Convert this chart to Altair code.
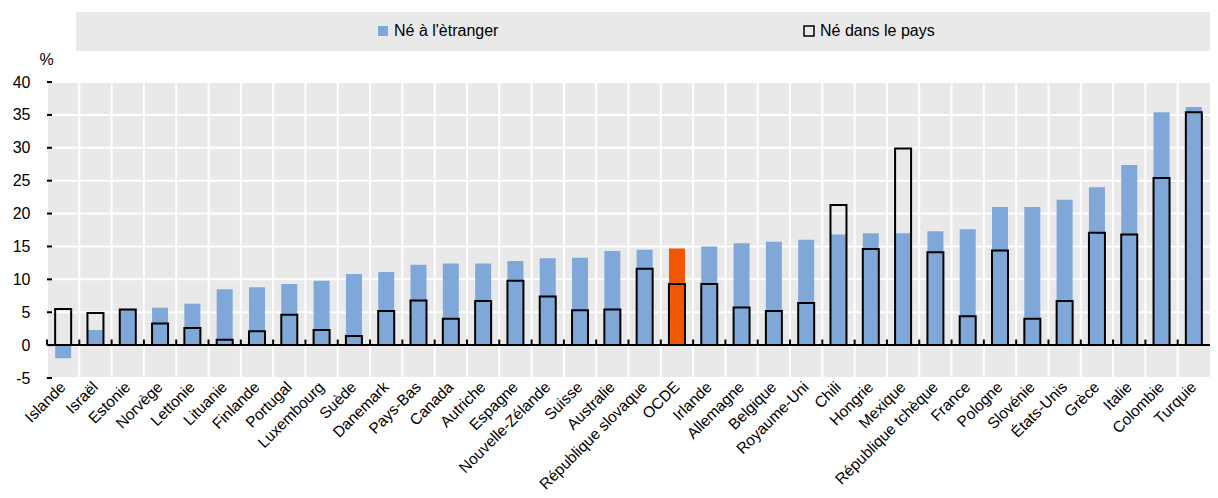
import altair as alt
import pandas as pd

countries = ["Islande", "Israël", "Estonie", "Norvège", "Lettonie", "Lituanie", "Finlande",
             "Portugal", "Luxembourg", "Suède", "Danemark", "Pays-Bas", "Canada", "Autriche",
             "Espagne", "Nouvelle-Zélande", "Suisse", "Australie", "République slovaque", "OCDE",
             "Irlande", "Allemagne", "Belgique", "Royaume-Uni", "Chili", "Hongrie", "Mexique",
             "République tchèque", "France", "Pologne", "Slovénie", "États-Unis", "Grèce",
             "Italie", "Colombie", "Turquie"]
foreign = [-2.0, 2.3, 5.5, 5.7, 6.3, 8.5, 8.8, 9.3, 9.8, 10.8, 11.1, 12.2, 12.4, 12.4, 12.8,
           13.2, 13.3, 14.3, 14.5, 14.7, 15.0, 15.5, 15.7, 16.0, 16.8, 17.0, 17.0, 17.3, 17.6,
           21.0, 21.0, 22.1, 24.0, 27.4, 35.4, 36.2]
native = [5.5, 4.9, 5.4, 3.3, 2.6, 0.8, 2.1, 4.6, 2.3, 1.4, 5.2, 6.8, 4.0, 6.7, 9.8, 7.4, 5.3,
          5.4, 11.6, 9.3, 9.3, 5.7, 5.2, 6.4, 21.3, 14.6, 29.9, 14.1, 4.4, 14.4, 4.0, 6.7, 17.1,
          16.8, 25.4, 35.4]
series_names = ["Né à l'ètranger", "Né dans le pays"]
y_ticks = [-5, 0, 5, 10, 15, 20, 25, 30, 35, 40]
highlight = "OCDE"

BLUE = "#7FA8D9"
ORANGE = "#F25600"
GREY = "#E9E9E9"
FONT = "Liberation Sans"
W, H = 1163, 296
HALF_STEP = W / len(countries) / 2
TICK_LEN = 0.85  # in data units on the y scale

rows = []
for c, f in zip(countries, foreign):
    rows.append({"country": c, "series": series_names[0], "key": "foreign", "value": f})
for c, n in zip(countries, native):
    rows.append({"country": c, "series": series_names[1], "key": "native", "value": n})
df = pd.DataFrame(rows)
cdf = pd.DataFrame({"country": countries})
tdf = pd.DataFrame({"t": y_ticks})
one = pd.DataFrame({"a": [0]})

xscale = alt.Scale(paddingInner=0, paddingOuter=0)
yscale = alt.Scale(domain=[-5, 40], nice=False)
xplain = alt.X("country:N", sort=countries, scale=xscale, axis=None)

background = alt.Chart(one).mark_rect(color=GREY).encode(
    x=alt.value(0), x2=alt.value(W), y=alt.value(0), y2=alt.value(H))

legend_band = alt.Chart(one).mark_rect(color=GREY).encode(
    x=alt.value(29), x2=alt.value(W), y=alt.value(-70), y2=alt.value(-31))

hgrid = alt.Chart(tdf).mark_rule(color="white", strokeWidth=2).encode(
    y=alt.Y("t:Q", scale=yscale, axis=None))

vgrid = alt.Chart(cdf).mark_rule(color="white", strokeWidth=2, xOffset=-HALF_STEP).encode(
    x=xplain, y=alt.value(0), y2=alt.value(H))

leg = alt.Legend(title=None, orient="none", legendX=328, legendY=-59, direction="horizontal",
                 symbolType="square", symbolSize=100, symbolStrokeWidth=1.5,
                 labelFontSize=16, labelFont=FONT, labelColor="black", labelOffset=3,
                 columnPadding=302, padding=0)

bars = alt.Chart(df).mark_bar(size=16, strokeWidth=2).encode(
    x=alt.X("country:N", sort=countries, scale=xscale,
            axis=alt.Axis(title=None, domain=False, ticks=False, grid=False,
                          labelAngle=-45, labelAlign="right", labelBaseline="middle",
                          labelPadding=6, labelFontSize=15.5, labelFont=FONT,
                          labelColor="black", labelOverlap=False)),
    y=alt.Y("value:Q", scale=yscale, stack=None,
            axis=alt.Axis(title="%", titleAngle=0, titleX=-1, titleY=-15, titleAlign="center",
                          titleFontSize=16, titleFontWeight="normal", titleFont=FONT,
                          titleColor="black",
                          values=y_ticks, domain=True, domainColor="black", domainWidth=2,
                          ticks=False, grid=False,
                          labelFontSize=16, labelFont=FONT, labelColor="black",
                          labelPadding=17, labelOverlap=False, labelFlush=False,
                          labelExpr="toString(datum.value)")),
    fill=alt.condition(
        f"datum.country == '{highlight}' && datum.key == 'foreign'",
        alt.value(ORANGE),
        alt.Fill("series:N", scale=alt.Scale(domain=series_names, range=[BLUE, "transparent"]),
                 legend=leg)),
    stroke=alt.Stroke("series:N", scale=alt.Scale(domain=series_names,
                                                  range=["transparent", "black"]),
                      legend=leg),
)

zero = alt.Chart(one).mark_rule(color="black", strokeWidth=2).encode(
    y=alt.Y("a:Q", scale=yscale, axis=None))

xticks = alt.Chart(cdf).transform_calculate(
    base="0", tip=str(TICK_LEN)
).mark_rule(color="black", strokeWidth=2, xOffset=-HALF_STEP).encode(
    x=xplain, y=alt.Y("base:Q", scale=yscale, axis=None), y2="tip:Q")

yticks = alt.Chart(tdf).mark_rule(color="black", strokeWidth=2).encode(
    y=alt.Y("t:Q", scale=yscale, axis=None), x=alt.value(0), x2=alt.value(5))

chart = alt.layer(background, legend_band, hgrid, vgrid, bars, zero, xticks, yticks).properties(
    width=W, height=H,
    autosize=alt.AutoSizeParams(type="none"),
    padding={"left": 39, "top": 74, "right": 0, "bottom": 112},
).resolve_axis(x="independent", y="independent").configure_view(
    strokeWidth=0).configure(font=FONT)

chart.save("out.html", embed_options={"renderer": "svg", "actions": False})
